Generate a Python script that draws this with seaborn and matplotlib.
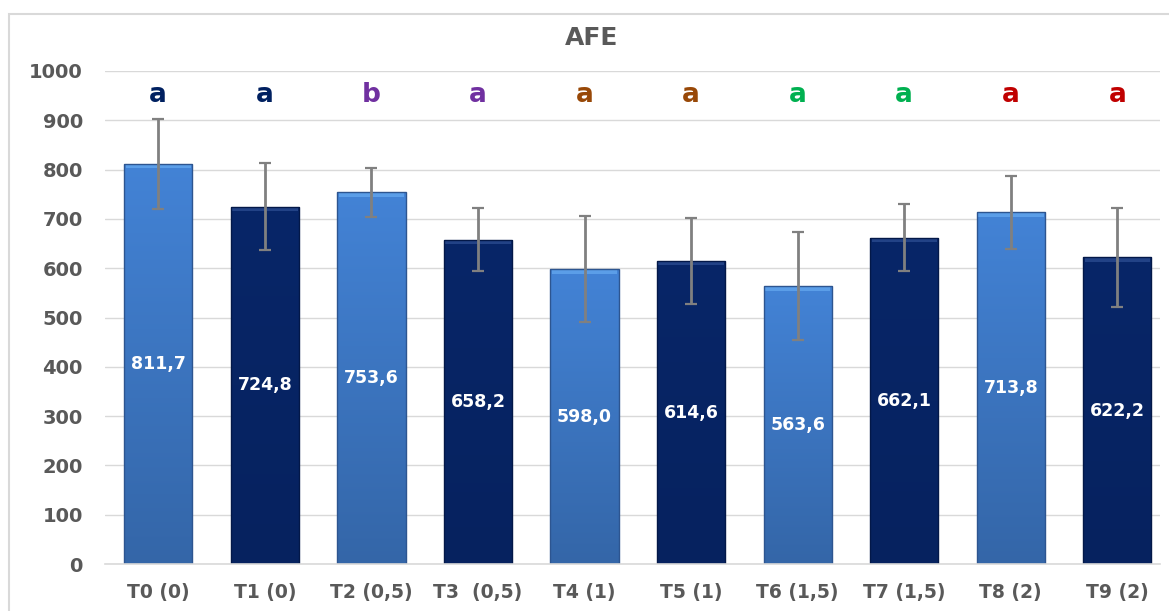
import numpy as np
import pandas as pd
import matplotlib
matplotlib.use("Agg")
import matplotlib.pyplot as plt
import matplotlib.colors as mcolors
from matplotlib.patches import Rectangle
import seaborn as sns

treatments = ["T0 (0)", "T1 (0)", "T2 (0,5)", "T3  (0,5)", "T4 (1)",
              "T5 (1)", "T6 (1,5)", "T7 (1,5)", "T8 (2)", "T9 (2)"]
afe_mean = [811.7, 724.8, 753.6, 658.2, 598.0, 614.6, 563.6, 662.1, 713.8, 622.2]
afe_err = [91, 88, 49, 63, 107, 88, 109, 68, 74, 100]
value_labels = ["811,7", "724,8", "753,6", "658,2", "598,0",
                "614,6", "563,6", "662,1", "713,8", "622,2"]
letters = ["a", "a", "b", "a", "a", "a", "a", "a", "a", "a"]
letter_colors = ["#002060", "#002060", "#7030A0", "#7030A0", "#984807",
                 "#984807", "#00B050", "#00B050", "#C00000", "#C00000"]
shade = ["light", "dark"] * 5

palette = {"light": "#3F7CC9", "dark": "#06246A"}
gradients = {"light": ("#4383D6", "#3466A8"), "dark": ("#082668", "#06225F")}
bevel = {"light": "#62A6EE", "dark": "#2A4A8E"}
edge = {"light": "#2D5590", "dark": "#031848"}

df = pd.DataFrame({"treatment": treatments, "afe": afe_mean,
                   "err": afe_err, "shade": shade})

sns.set_theme(style="white")
plt.rcParams["font.family"] = ["DejaVu Sans"]

fig = plt.figure(figsize=(11.69, 6.11), dpi=100)
ax = fig.add_axes([105 / 1169, 1 - 564 / 611, (1160 - 105) / 1169, (564 - 71) / 611])

sns.barplot(data=df, x="treatment", y="afe", hue="shade", palette=palette,
            dodge=False, legend=False, width=0.64, errorbar=None,
            linewidth=0, ax=ax, zorder=2)

ax.set_xlim(-0.5, 9.4)
ax.set_ylim(0, 1000)
ax.set_yticks(range(0, 1001, 100))
ax.yaxis.grid(True, color="#D9D9D9", linewidth=1.0, zorder=0)
ax.set_axisbelow(True)
for s in ["top", "right", "left"]:
    ax.spines[s].set_visible(False)
ax.spines["bottom"].set_color("#D9D9D9")
ax.spines["bottom"].set_linewidth(1.2)

# gradient fill clipped to each bar, with a light bevel at the top
bars = [p for p in ax.patches if p.get_height() > 0]
bars.sort(key=lambda p: p.get_x())
for p, sh in zip(bars, shade):
    x0, w, h = p.get_x(), p.get_width(), p.get_height()
    cmap = mcolors.LinearSegmentedColormap.from_list("g", [gradients[sh][1], gradients[sh][0]])
    grad = np.linspace(0, 1, 256).reshape(-1, 1)
    img = ax.imshow(grad, extent=[x0, x0 + w, 0, h], origin="lower",
                    aspect="auto", cmap=cmap, zorder=2.1)
    img.set_clip_path(p)
    ax.add_patch(Rectangle((x0 + w * 0.02, h - 9), w * 0.96, 8, color=bevel[sh],
                           alpha=0.8, zorder=2.2, linewidth=0))
    ax.add_patch(Rectangle((x0, 0), w, h, fill=False, edgecolor=edge[sh],
                           linewidth=1.0, zorder=2.3))

xs = np.arange(len(treatments))
ax.errorbar(xs, afe_mean, yerr=afe_err, fmt="none", ecolor="#808080",
            elinewidth=2, capsize=4, capthick=1.6, zorder=3)

for i, (m, lab) in enumerate(zip(afe_mean, value_labels)):
    ax.text(i, m / 2, lab, ha="center", va="center", color="white",
            fontsize=12.5, fontweight="bold", zorder=4)

for i, (l, c) in enumerate(zip(letters, letter_colors)):
    ax.text(i, 952, l, ha="center", va="center", color=c,
            fontsize=19, fontweight="bold", zorder=4)

ax.set_xlabel("")
ax.set_ylabel("")
ax.tick_params(axis="y", length=0, pad=16, labelsize=14, labelcolor="#595959")
ax.tick_params(axis="x", length=0, pad=14, labelsize=13.5, labelcolor="#595959")
for t in ax.get_xticklabels() + ax.get_yticklabels():
    t.set_fontweight("bold")

fig.text(592 / 1169, 1 - 38 / 611, "AFE", ha="center", va="center",
         fontsize=18, fontweight="bold", color="#595959")

fig.patches.append(Rectangle((9 / 1169, -0.05), 1.1, 1 - 14 / 611 + 0.05,
                             transform=fig.transFigure, fill=False,
                             edgecolor="#D9D9D9", linewidth=1.5))

fig.savefig("out.png", dpi=100)
